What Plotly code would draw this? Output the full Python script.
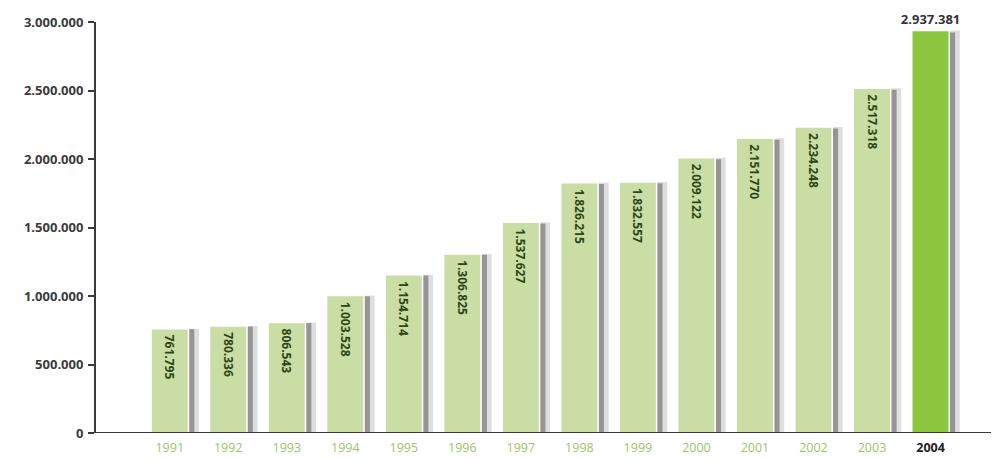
import plotly.graph_objects as go

years = ["1991", "1992", "1993", "1994", "1995", "1996", "1997", "1998", "1999", "2000", "2001", "2002", "2003", "2004"]
values = [761795, 780336, 806543, 1003528, 1154714, 1306825, 1537627, 1826215, 1832557, 2009122, 2151770, 2234248, 2517318, 2937381]
y_ticks = [0, 500000, 1000000, 1500000, 2000000, 2500000, 3000000]

def fmt(v):
    return f"{v:,}".replace(",", ".")

n = len(years)
xs = list(range(n))
labels = ["\u00a0" + fmt(v) for v in values]

fig = go.Figure()

# shadows
fig.add_trace(go.Bar(x=xs, y=values, width=0.22, offset=0.28,
                     marker=dict(color="rgba(160,160,160,0.35)", line=dict(width=0)),
                     hoverinfo="skip", showlegend=False))
fig.add_trace(go.Bar(x=xs, y=[v * 0.995 for v in values], width=0.11, offset=0.31,
                     marker=dict(color="rgba(100,100,100,0.6)", line=dict(width=0)),
                     hoverinfo="skip", showlegend=False))

# main bars (1991-2003)
fig.add_trace(go.Bar(x=xs[:-1], y=values[:-1], width=0.64,
                     marker=dict(color="#cadda4", line=dict(color="white", width=1.5)),
                     text=labels[:-1], textposition="inside", textangle=90,
                     insidetextanchor="end",
                     textfont=dict(family="Open Sans", size=12, color="#2c4514", weight="bold"),
                     constraintext="none", showlegend=False))
# 2004 highlighted bar
fig.add_trace(go.Bar(x=xs[-1:], y=values[-1:], width=0.64,
                     marker=dict(color="#8cc63e", line=dict(color="white", width=1.5)),
                     text=[fmt(values[-1])], textposition="outside", textangle=0,
                     textfont=dict(family="Open Sans", size=13, color="#333333", weight="bold"),
                     constraintext="none", cliponaxis=False, showlegend=False))

ticktext = [f"<span style='color:#9cc46a'>{y}</span>" for y in years[:-1]] + \
           [f"<b><span style='color:#222222'>{years[-1]}</span></b>"]

fig.update_layout(
    width=991, height=451,
    margin=dict(l=88, r=0, t=14, b=26, autoexpand=False),
    paper_bgcolor="white", plot_bgcolor="white",
    barmode="overlay",
    separators=",.",
    font=dict(family="Open Sans", color="#3a3a3a"),
    xaxis=dict(range=[-1.26, 14.17], tickmode="array", tickvals=xs, ticktext=ticktext,
               showgrid=False, zeroline=False, showline=False, ticks="",
               tickfont=dict(size=12.5), ticklabelstandoff=5, fixedrange=True, automargin=False),
    yaxis=dict(range=[0, 3000000], tickmode="array", tickvals=y_ticks,
               ticktext=[fmt(v) for v in y_ticks], automargin=False,
               showgrid=False, zeroline=False, showline=True, linecolor="#3a3a3a", linewidth=2,
               ticks="outside", ticklen=6, tickwidth=2, tickcolor="#3a3a3a",
               tickfont=dict(size=13, color="#3a3a3a", weight="bold"), ticklabelstandoff=2),
    shapes=[dict(type="line", xref="paper", yref="y", x0=0, x1=1, y0=0, y1=0,
                 line=dict(color="#3a3a3a", width=2), layer="above")],
)

fig.write_html("out.html")
